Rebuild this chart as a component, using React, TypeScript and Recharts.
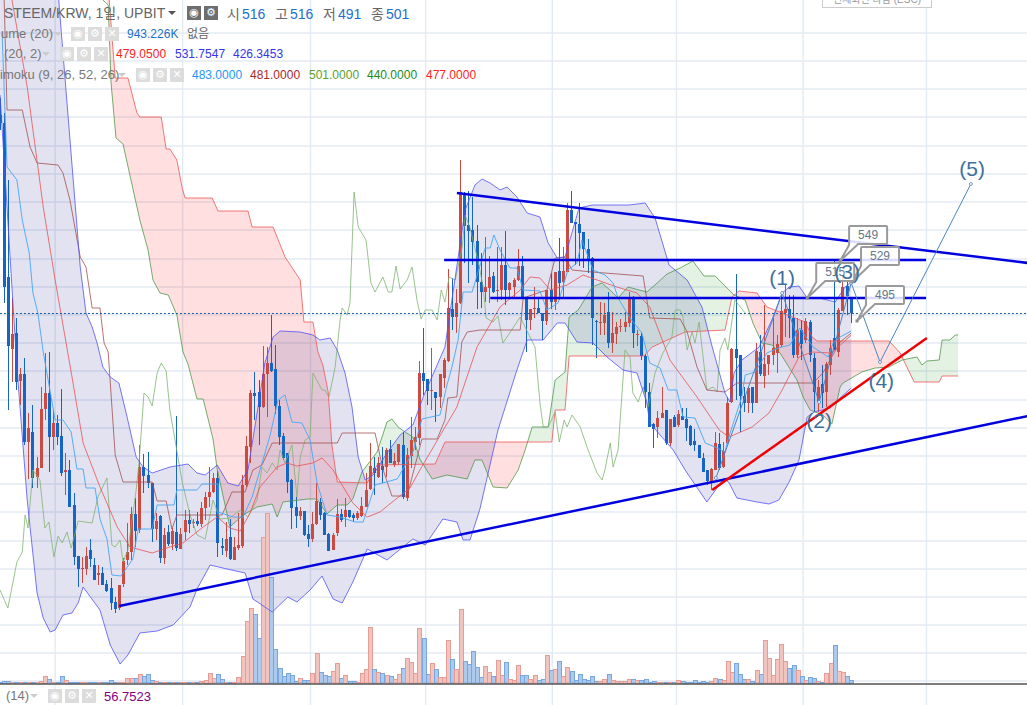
import React from "react";
import { ComposedChart, Bar, Line, Area, XAxis, YAxis, CartesianGrid } from "recharts";

type Pt = [number, number];

const opens = [699,691,537,465,481,433,440,372,382,337,
346,405,421,377,391,378,342,344,309,258,
245,245,264,249,239,241,230,226,212,206,
230,254,262,300,284,347,339,331,285,298,
256,282,270,282,265,282,294,291,293,290,
306,317,322,336,268,263,277,254,266,268,
329,367,421,422,407,440,451,445,408,378,
361,334,307,298,303,280,275,290,312,301,
280,264,281,300,297,304,299,296,298,307,
325,346,337,348,347,365,349,352,369,316,
358,372,376,441,435,423,422,417,436,453,
505,497,511,621,589,584,573,532,522,526,
538,523,524,549,524,527,534,548,516,494,
505,506,501,493,524,512,543,532,542,604,
592,590,582,565,556,493,491,491,502,471,
480,487,487,491,517,479,478,458,422,390,
387,396,404,371,397,389,398,395,388,373,
369,356,344,332,344,370,347,371,412,465,
459,418,411,427,411,462,438,450,459,461,
469,501,505,496,459,484,474,492,456,412,
430,422,449,476,462,503,528,516];
const closes = [691,527,468,480,432,440,372,386,336,346,
405,421,377,391,377,341,344,307,257,245,
246,258,255,234,241,229,223,211,205,229,
253,262,300,283,347,338,331,285,293,256,
279,270,283,266,280,294,290,292,290,306,
317,322,336,271,266,275,255,267,269,329,
368,421,418,407,440,451,443,408,377,356,
332,306,298,303,279,275,290,313,299,279,
263,279,300,294,304,297,296,301,308,324,
348,341,351,344,364,351,353,370,317,359,
374,377,441,433,423,424,416,440,454,506,
497,511,622,588,583,572,532,522,527,537,
522,524,549,524,531,534,548,516,494,505,
506,501,493,524,512,542,531,543,604,591,
590,581,565,554,496,492,492,499,471,481,
487,488,492,515,481,480,458,422,387,385,
396,401,371,395,387,400,394,386,369,369,
356,342,333,345,371,346,363,411,465,456,
418,411,426,411,463,440,450,459,466,470,
503,505,496,459,484,470,493,459,422,427,
421,450,466,464,504,527,518,501];
const highs = [716,701,634,516,496,446,456,401,409,357,
427,461,462,404,399,425,361,354,321,258,
257,267,275,256,249,247,234,236,217,229,
256,291,307,316,369,360,362,331,301,299,
286,289,286,398,286,304,304,295,302,312,
322,347,341,343,276,292,295,277,301,339,
378,424,442,434,468,467,499,469,414,381,
361,335,317,307,303,289,302,331,316,302,
281,281,315,305,316,304,301,303,317,341,
371,357,357,367,366,374,361,370,382,366,
397,387,453,486,435,466,422,440,456,545,
536,525,654,622,623,617,589,561,577,558,
542,567,567,583,532,536,565,558,516,505,
527,516,501,524,541,542,576,567,611,623,
592,611,582,575,557,494,512,511,522,502,
492,495,502,522,518,484,481,460,431,391,
403,427,404,395,399,404,406,406,389,385,
369,361,344,346,382,381,372,417,466,540,
459,427,427,427,471,479,509,459,496,479,
522,529,519,519,496,494,496,494,461,434,
449,452,474,554,506,539,532,516];
const lows = [684,511,404,432,424,409,369,335,326,326,
346,394,342,364,369,338,319,307,249,227,
231,239,247,234,229,229,222,204,201,204,
227,249,254,267,281,321,326,272,274,251,
250,268,264,263,265,274,281,286,288,287,
294,307,321,257,259,257,254,254,264,266,
327,351,394,369,406,397,442,400,369,354,
321,285,286,294,278,267,272,289,294,279,
263,264,278,292,287,296,292,294,297,307,
324,319,336,331,337,351,347,349,315,313,
346,364,369,419,409,404,392,406,426,452,
484,481,510,551,531,549,505,506,512,511,
521,512,514,509,516,517,533,516,462,484,
496,501,474,489,505,504,514,516,542,591,
549,548,546,541,469,456,479,479,466,461,
470,482,482,487,466,468,454,406,387,366,
376,396,369,368,387,387,394,373,368,363,
356,342,329,324,344,344,346,370,411,414,
382,402,401,401,411,438,426,439,449,441,
467,477,476,456,456,454,471,452,402,402,
406,407,439,464,457,503,499,491];
// volume in lots of about 285K
const volumeLots = [1.3,2.5,2.5,1,0.7,0.7,0.7,1.3,1.3,0.7,
2.3,7.3,4,0.7,1.3,6.7,3.3,1.3,1.3,1.3,
0.7,0.7,0.7,0.7,0.7,0.7,0.7,3.3,1.3,1.3,
1.3,4.7,4.7,4.7,8.7,6.7,8.7,3.3,2.3,0.7,
1.3,0.7,1.3,0.7,0.7,0.7,0.7,0.7,1.3,1.7,
3.3,10.3,4.7,8.7,4,1.3,1.3,1.3,5.7,27,
62,75,69,45,146,170,106,34,15,7.3,
9.7,8,2.3,4.7,3.3,3.3,10,30,11,8,
6.7,12,20,5,8.3,2.3,2.3,1.3,9.7,14,
56,14,11,10,8,6.7,4,8.7,15,25,
21,10,55,45,9,20,14,6.3,5.7,43,
24,14,74,22,19,32,16,5.7,17,10.7,
7.3,23,8,21,4.3,3.3,18,8,8,4.3,
8,3.3,4.3,28,13,14,22,7.3,16,12,
3.3,9.3,4.3,3.3,7.3,2.3,2.3,4.3,9.3,3.3,
2.3,2.3,2.3,4.3,4.3,3.3,3.3,4.3,1.3,2.3,
0.7,0.7,1.3,0.7,0.7,3.3,2.3,1.3,1.3,3.3,
1.3,2.3,1.3,2.3,5.3,4.3,3.3,22,11,20,
9.3,4.3,4.3,2.3,13,9.3,43,25,8,24,
39,22,15,18,13,7.3,3.3,6.3,5.3,2.3,
1.3,10,20,38,12,11,7.3,3.3];

const bbUpper: Pt[] = [[0,1214],[12,934],[14.6,797],[19.5,547],[20.9,501],[22.4,487],[23.6,471],[25,447],[26.8,437],[28.9,431],[30.9,397],[33.1,357],[34.8,347],[37,341],[41.3,347],[45.7,350],[47.9,341],[49.9,339],[52.8,349],[55.4,331],[57.9,328],[60.3,344],[62.5,401],[64.4,451],[66.4,477],[68.1,483],[73,482],[76.1,479],[77.8,474],[80.3,476],[82,464],[83.9,441],[85.6,407],[87.1,357],[88.8,334],[90.7,339],[94.1,361],[97.3,379],[100.4,389],[102.9,417],[108.2,467],[113.1,604],[115.5,629],[117.2,635],[119.2,631],[121.6,624],[123.3,627],[125.7,617],[128.2,601],[131.3,597],[133.3,571],[135.5,556],[137.4,557],[140.8,606],[144,609],[148.8,609],[153,609],[156.9,611],[159.3,596],[162.7,549],[167.1,534],[170.7,507],[173.2,467],[176.3,421],[177.5,412],[178.5,441],[180.4,454],[184.6,467],[187.7,494],[190.2,521],[191.9,527],[194.3,528],[196.3,516],[199.2,516],[203.1,512],[205.5,527],[207,532]];
const bbLower: Pt[] = [[0,719],[4.1,447],[6.6,314],[9,221],[10.5,196],[12.2,182],[13.4,184],[15.3,199],[17.5,201],[19,211],[20.2,227],[24.3,204],[26.8,169],[29.2,150],[31.1,159],[34,181],[38.2,183],[42.1,189],[46.2,207],[47.9,225],[51.1,249],[55.2,245],[59.6,241],[61.5,215],[66.2,202],[70,217],[72.2,212],[75.4,224],[78.3,238],[81,215],[83.2,211],[85.8,232],[89.3,265],[94.1,254],[100.4,275],[103.4,269],[107.7,295],[111.1,292],[112.6,274],[114.3,274],[116.7,305],[121.1,384],[125.7,444],[128.2,474],[132.1,474],[135.5,491],[137.4,491],[140.3,472],[144.2,471],[147.6,457],[151.5,444],[154.9,441],[157.3,411],[158,391],[163.7,364],[166.6,344],[171.9,312],[176.1,336],[177.3,331],[179.2,316],[184.1,312],[187,310],[189.4,314],[191.9,332],[194.3,354],[196.3,397],[198,402],[201.9,406],[204.3,416],[207,426]];
const bbBasis: Pt[] = [[0,964],[2.9,814],[6.6,727],[10.5,607],[13.4,534],[17.5,437],[20.2,371],[24.3,327],[28.5,287],[31.6,267],[37,261],[41.3,267],[44.5,271],[49.4,287],[52.8,297],[55.9,286],[58.4,283],[60.8,301],[63.2,327],[67.4,347],[69.8,351],[72.2,348],[76.1,351],[78.3,356],[81,344],[85.8,311],[89.3,297],[92.4,302],[96.6,316],[99.7,326],[102.1,344],[111.1,407],[116,467],[121.6,507],[126.5,524],[128.9,537],[131.3,536],[133.8,524],[137.9,529],[141.8,539],[145.9,533],[150,527],[154.9,521],[158,507],[162.9,454],[169.5,417],[174.9,384],[177.3,377],[182.9,387],[187,401],[190.2,424],[194.3,457],[197.5,462],[202.3,461],[207,479]];
const conversionLine: Pt[] = [[0.5,781],[1.7,647],[4.1,634],[5.4,594],[7.1,561],[8,521],[9.2,501],[10.5,462],[13.4,394],[15.3,394],[17.3,382],[18.7,345],[20.2,345],[20.9,326],[23.1,326],[24.3,295],[26,275],[27.2,239],[29.4,238],[32.3,255],[33.6,285],[37,285],[38.2,309],[42.3,309],[43,324],[47.9,324],[49.1,330],[53,330],[53,302],[56.7,297],[59.1,297],[61.3,317],[65.7,379],[67.6,414],[69.3,419],[71,392],[73.4,391],[75.4,374],[77.1,331],[79.5,299],[82.7,297],[86.3,292],[88.3,292],[91.2,329],[96.6,335],[100.4,362],[102.6,395],[107,399],[108.7,429],[109.9,447],[111.4,474],[112.6,522],[114.8,522],[118,566],[119.2,566],[120.1,579],[121.6,564],[124,546],[125.7,546],[127.2,524],[131.3,523],[133,504],[135.7,511],[138.1,544],[140.3,551],[141.5,574],[144.2,544],[147.1,539],[149.1,531],[150.3,516],[153.2,496],[156.1,481],[158,451],[160.5,446],[162.5,424],[164.6,424],[166.1,397],[169,396],[171.5,371],[173.9,367],[176.3,362],[177,374],[180.4,417],[181.2,439],[183.6,442],[186.5,461],[189.2,466],[192.1,469],[194.5,486],[197.7,467],[201.4,457],[202.6,471],[204.3,477],[207,483]];
const baseLine: Pt[] = [[1,814],[1.7,704],[5.4,704],[7.3,667],[9,651],[14.1,649],[15.3,641],[17,614],[19.5,557],[20.9,547],[22.4,506],[24.3,506],[25.3,471],[26.3,462],[28,359],[29.9,332],[37,332],[38.2,313],[40.4,313],[41.8,285],[43,299],[54,299],[56.4,322],[59.6,322],[61.5,344],[63.7,349],[66.2,371],[82,371],[83.2,381],[91.2,381],[93.1,345],[95.3,318],[99,318],[102.6,375],[106.3,375],[108.2,394],[108.9,416],[111.1,417],[112.3,472],[113.6,482],[116.7,484],[126.5,484],[127.2,516],[133,524],[135,556],[137.4,557],[139.1,544],[144,542],[156.4,538],[158,496],[165.4,495],[167.1,482],[169.5,447],[171.9,424],[176.3,422],[179.2,431],[197.7,431],[200.1,441],[204.3,472],[207,481]];
const laggingSpan: Pt[] = [[0,224],[1.9,206],[4.1,252],[5.4,262],[6.1,299],[6.8,286],[8,344],[9.7,334],[10.9,286],[11.9,292],[13.1,257],[14.1,278],[15.1,271],[16.3,282],[17.3,266],[19,293],[22.4,291],[23.8,317],[26,336],[27.2,269],[28,267],[29.2,274],[29.9,252],[31.1,264],[33.1,324],[33.8,351],[35,421],[36,417],[37,408],[38.2,441],[39.2,451],[40.4,443],[41.3,404],[44.3,332],[46.2,299],[47.9,279],[49.9,275],[51.8,314],[53.5,295],[55.9,296],[58.4,304],[60.3,297],[62.5,314],[63.7,347],[64.9,341],[66.2,351],[67.4,344],[68.1,364],[69.3,351],[71,369],[72.2,317],[73,357],[74.2,374],[75.4,377],[76.1,441],[78.3,424],[79,424],[80,417],[81.5,447],[82.7,494],[83.2,506],[84.4,499],[85.1,511],[86.1,622],[87.1,587],[89,574],[90.2,531],[91.2,522],[93.1,537],[94.4,522],[95.3,522],[96.3,548],[97.3,525],[99,534],[100.2,547],[101.4,514],[102.4,495],[103.4,504],[105.1,504],[106.3,494],[107.3,524],[108.2,512],[109.2,537],[110.7,534],[112.4,567],[113.1,599],[114.3,586],[116.2,554],[117.5,527],[118.2,496],[119.9,492],[121.1,498],[122.3,471],[126.5,497],[128.4,481],[130.1,467],[131.3,411],[132.1,387],[133.3,387],[135,402],[136,372],[137.2,394],[137.9,387],[139.1,399],[141.1,387],[143,364],[145.2,341],[146.4,334],[147.1,344],[148.4,371],[149.1,347],[150.3,364],[152,464],[153.2,457],[153.9,421],[155.2,412],[156.4,427],[157.6,407],[159.3,441],[161.2,461],[163.4,477],[164.2,504],[165.4,504],[166.1,497],[167.1,464],[168.3,482],[169,471],[170,492],[171.9,424],[173.4,427],[174.4,422],[175.1,464],[176.3,476],[177,464],[178.7,514],[181.2,501]];
const leadingA: Pt[] = [[25,814],[26.3,809],[27,731],[28.2,676],[29.9,670],[34,594],[36,564],[37.2,534],[38.9,521],[40.9,519],[43,499],[44.5,462],[45.7,450],[47.9,415],[49.4,415],[51.8,375],[52.8,345],[55.9,287],[59.1,299],[62.5,307],[66.2,310],[67.4,297],[68.8,312],[74.9,315],[77.1,315],[79.5,300],[82,309],[84.4,309],[85.8,315],[88,342],[91.7,362],[94.1,392],[95.3,395],[96.8,387],[98.5,382],[100.4,377],[102.1,355],[105.1,335],[108.7,339],[113.6,335],[115.5,354],[117.2,354],[119.9,327],[123.3,326],[126,344],[127.7,364],[129.4,387],[133.3,387],[135,434],[137.4,442],[138.4,497],[140.6,504],[144,527],[146.4,531],[149.1,521],[150.3,516],[152.7,527],[157.3,522],[159.8,531],[162.2,540],[165.4,546],[168.5,553],[171.2,538],[173.9,538],[175.6,531],[178.5,519],[181.2,514],[183.1,491],[185.3,471],[187.7,469],[189.7,461],[193.8,434],[195.3,417],[197,404],[200.1,399],[202.3,390],[204.3,427],[205,431],[209.6,442],[212.8,446],[216.2,447],[219.4,454],[223,457],[224.2,449],[225.4,453],[228.4,454],[229.1,474],[231,474],[232.3,479],[233,479]];
const leadingB: Pt[] = [[26,844],[28,736],[31.1,736],[33.3,701],[34,697],[39.2,697],[40.4,665],[41.3,665],[43,654],[44.3,626],[45,616],[51.6,616],[53,603],[60.3,603],[61.3,587],[66.4,587],[69.3,557],[73,534],[73.9,492],[76.1,492],[77.3,462],[78.5,449],[79.8,422],[80.7,369],[82,332],[89.3,331],[91.7,349],[105.8,350],[108.2,372],[134.2,372],[135,404],[137.4,404],[138.4,458],[156.6,458],[158.6,467],[166.6,482],[176.3,484],[178,517],[179.7,523],[184.1,521],[186.5,507],[195.8,492],[197.5,477],[198.7,473],[216.2,473],[218.9,461],[222.3,432],[228.4,432],[229.1,438],[233,438]];

const lowerTrend: Pt[] = [[29,208],[250,398]];
const upperTrend: Pt[] = [[111.1,621],[250,551]];
const resistance: Pt[] = [[108,554],[225.2,554]];
const support: Pt[] = [[119.2,516],[225.2,516]];
const impulseTrend: Pt[] = [[173.2,324],[225.4,476]];
const wavePath: Pt[] = [[174.1,336],[190.2,521],[199.2,412],[207,531],[214,452],[236.1,630]];
const lastClose: Pt[] = [[-1,500.5],[251,500.5]];
const paneFloor: Pt[] = [[-1,-1],[251,-1]];
const waveLabels = [{ k: 190.2, p: 537, t: "(1)" }, { k: 199.2, p: 394, t: "(2)" }, { k: 206, p: 543, t: "(3)" }, { k: 214.3, p: 434, t: "(4)" }, { k: 236.4, p: 646, t: "(5)" }];
const callouts = [{ k: 204.3, p: 553, t: "549" }, { k: 207.2, p: 532, t: "529" }, { k: 196.3, p: 516, t: "515" }];
const calloutBehind = [{ k: 208.4, p: 493, t: "495" }];

const priceGrid = [809,781,753,725,697,668,640,612,584,555,527,499,471,443,414,386,358,330,302,273,245,217,189,161,133];
const barGrid = [13.4,44.4,75.5,103.5,134.3,164.5,195.3,225.3];

const rows = opens.map((o, k) => ({ k, o, h: highs[k], l: lows[k], c: closes[k], v: volumeLots[k] }));
const toRows = (pts: Pt[]) => pts.map(([k, p]) => ({ k, p }));

const valueAt = (pts: Pt[], k: number) => {
  if (k <= pts[0][0]) return pts[0][1];
  for (let i = 1; i < pts.length; i++) {
    if (k <= pts[i][0]) {
      const [k0, p0] = pts[i - 1];
      const [k1, p1] = pts[i];
      return k1 === k0 ? p1 : p0 + ((p1 - p0) * (k - k0)) / (k1 - k0);
    }
  }
  return pts[pts.length - 1][1];
};
// Align two hand-read outlines on their joint vertices so an area can be filled between them.
const fillRows = (a: Pt[], b: Pt[]) => {
  const from = Math.max(a[0][0], b[0][0]);
  const to = Math.min(a[a.length - 1][0], b[b.length - 1][0]);
  const ks = Array.from(new Set([...a, ...b].map((p) => p[0]))).filter((k) => k >= from && k <= to).sort((x, y) => x - y);
  const out: { k: number; a: number; b: number }[] = [];
  ks.forEach((k, i) => {
    const cur = { k, a: valueAt(a, k), b: valueAt(b, k) };
    if (i > 0) {
      const prev = out[out.length - 1];
      const d0 = prev.a - prev.b;
      const d1 = cur.a - cur.b;
      if (d0 * d1 < 0) {
        const kx = prev.k + ((k - prev.k) * d0) / (d0 - d1);
        const v = valueAt(a, kx);
        out.push({ k: kx, a: v, b: v });
      }
    }
    out.push(cur);
  });
  return out;
};
const bandRows = fillRows(bbLower, bbUpper);
const cloudRows = fillRows(leadingA, leadingB);

const UP = "#cb4b42";
const DOWN = "#1565c4";

const Candle = (props: any) => {
  const { x, y, width, height, payload } = props;
  const { o, h, l, c } = payload;
  const px = Math.floor(x + width / 2);
  const ratio = height / Math.max(h - l, 1);
  const top = Math.round(y + (h - Math.max(o, c)) * ratio);
  const bodyH = Math.max(Math.round(Math.abs(o - c) * ratio), 1);
  const color = c >= o ? UP : DOWN;
  return (
    <g shapeRendering="crispEdges">
      <rect x={px} y={y} width={1} height={height} fill={color} />
      <rect x={px - 1} y={top} width={3} height={bodyH} fill={color} />
    </g>
  );
};
const VolumeBar = (props: any) => {
  const { x, y, width, height, payload } = props;
  const up = payload.c >= payload.o;
  const left = Math.round(x + width / 2 - 2);
  return (
    <rect x={left + 0.5} y={Math.round(y) + 0.5} width={4} height={Math.max(height - 0.5, 0.5)} fill={up ? "#f2c4bf" : "#adc9ec"} stroke={up ? "#e59d96" : "#78a6df"} strokeWidth={1} />
  );
};
const WaveText = (props: any) => (
  <text key={props.payload.t} x={props.cx} y={props.cy} textAnchor="middle" dominantBaseline="central" fontFamily="'Liberation Sans', Arial, sans-serif" fontSize={21} fill="#3f6f9c">
    {props.payload.t}
  </text>
);
const WaveDot = (props: any) => (
  <circle key={props.index} cx={props.cx} cy={props.cy} r={1.5} fill="#ffffff" stroke="#4a86c0" strokeWidth={0.8} />
);
const Callout = (props: any) => {
  const { cx, cy, payload } = props;
  return (
    <g key={payload.t}>
      <path
        d={`M${cx},${cy} L${cx + 9},${cy - 16} L${cx + 9},${cy - 34} Q${cx + 9},${cy - 35} ${cx + 10},${cy - 35} L${cx + 46},${cy - 35} Q${cx + 47},${cy - 35} ${cx + 47},${cy - 34} L${cx + 47},${cy - 18} Q${cx + 47},${cy - 17} ${cx + 46},${cy - 17} L${cx + 18},${cy - 17} Z`}
        fill="#ffffff"
        fillOpacity={0.86}
        stroke="#9a9a9a"
        strokeWidth={2}
      />
      <rect x={cx - 1.5} y={cy - 1.5} width={3} height={3} fill="#8f8f8f" />
      <text x={cx + 28} y={cy - 26} textAnchor="middle" dominantBaseline="central" fontFamily="'Liberation Sans', Arial, sans-serif" fontSize={12} fill="#66788a">
        {payload.t}
      </text>
    </g>
  );
};

const FONT = "'Liberation Sans', Arial, 'Noto Sans CJK KR', sans-serif";
const abs = (left: number, center: number, extra: React.CSSProperties = {}): React.CSSProperties => ({
  position: "absolute",
  left,
  top: center - 10,
  height: 20,
  lineHeight: "20px",
  whiteSpace: "nowrap",
  fontFamily: FONT,
  ...extra,
});
const T = ({ x, c, s, size = 12, color = "#666" }: { x: number; c: number; s: string; size?: number; color?: string }) => (
  <span style={abs(x, c, { fontSize: size, color })}>{s}</span>
);
const Icon = ({ x, c, g, dark }: { x: number; c: number; g: string; dark?: boolean }) => (
  <span
    style={{
      position: "absolute",
      left: x,
      top: c - 7,
      width: 14,
      height: 14,
      lineHeight: "14px",
      textAlign: "center",
      fontSize: 11,
      fontFamily: "'DejaVu Sans', sans-serif",
      background: dark ? "#6e6e6e" : "#dcdcdc",
      color: "#ffffff",
    }}
  >
    {g}
  </span>
);
const Caret = ({ x, c, color }: { x: number; c: number; color: string }) => (
  <span style={{ position: "absolute", left: x, top: c - 2, width: 0, height: 0, borderLeft: "4px solid transparent", borderRight: "4px solid transparent", borderTop: `4px solid ${color}` }} />
);
const Trio = ({ x, c }: { x: number; c: number }) => (
  <>
    <Icon x={x} c={c} g="◉" />
    <Icon x={x + 17} c={c} g="⚙" />
    <Icon x={x + 34} c={c} g="✕" />
  </>
);

const thin = (data: Pt[], stroke: string, opacity = 0.78) => (
  <Line data={toRows(data)} dataKey="p" type="linear" stroke={stroke} strokeOpacity={opacity} strokeWidth={1} dot={false} activeDot={false} isAnimationActive={false} legendType="none" />
);
const bold = (data: Pt[], stroke: string, w = 2.5) => (
  <Line data={toRows(data)} dataKey="p" type="linear" stroke={stroke} strokeWidth={w} dot={false} activeDot={false} isAnimationActive={false} legendType="none" />
);

export default function App() {
  return (
    <div style={{ position: "fixed", left: 0, top: 0, width: 1027, height: 705, overflow: "hidden", background: "#fff" }}>
      <ComposedChart width={1027} height={705} data={rows} margin={{ top: 0, right: 0, bottom: 0, left: 0 }}>
        <XAxis dataKey="k" type="number" domain={[-0.012, 249.75]} hide allowDataOverflow />
        <XAxis xAxisId="volX" dataKey="k" type="number" domain={[-0.012, 249.75]} hide allowDataOverflow />
        <YAxis domain={[109, 814]} hide allowDataOverflow />
        <YAxis yAxisId="vol" domain={[-22, 683]} hide allowDataOverflow />
        <CartesianGrid stroke="#e3ebf2" strokeWidth={1.4} horizontalValues={priceGrid} verticalValues={barGrid} />

        <Bar xAxisId="volX" yAxisId="vol" dataKey="v" barSize={4} shape={VolumeBar} isAnimationActive={false} legendType="none" />

        <Area data={cloudRows} dataKey={(d: any) => (d.b >= d.a ? [d.a, d.b] : [d.a, d.a])} type="linear" stroke="none" fill="#ff0000" fillOpacity={0.125} dot={false} activeDot={false} isAnimationActive={false} legendType="none" />
        <Area data={cloudRows} dataKey={(d: any) => (d.a >= d.b ? [d.b, d.a] : [d.a, d.a])} type="linear" stroke="none" fill="#008000" fillOpacity={0.105} dot={false} activeDot={false} isAnimationActive={false} legendType="none" />
        <Area data={bandRows} dataKey={(d: any) => [d.a, d.b]} type="linear" stroke="none" fill="#000080" fillOpacity={0.115} dot={false} activeDot={false} isAnimationActive={false} legendType="none" />

        {thin(leadingA, "#4f9648")}
        {thin(leadingB, "#f05252")}
        {thin(laggingSpan, "#7fb26e")}
        {thin(baseLine, "#a34d4d")}
        {thin(bbBasis, "#e84f4f")}
        {thin(bbUpper, "#5050f5")}
        {thin(bbLower, "#5050f5")}
        {thin(conversionLine, "#46a6f5", 0.9)}

        <Bar dataKey={(d: any) => [d.l, d.h]} barSize={4} shape={Candle} isAnimationActive={false} legendType="none" />

        <Line data={toRows(lastClose)} dataKey="p" stroke="#1a5a9e" strokeWidth={1} strokeDasharray="2 2" dot={false} activeDot={false} isAnimationActive={false} legendType="none" />
        <Line yAxisId="vol" data={toRows(paneFloor)} dataKey="p" stroke="#555555" strokeWidth={1.5} dot={false} activeDot={false} isAnimationActive={false} legendType="none" />

        <Line data={calloutBehind} dataKey="p" stroke="none" dot={Callout} activeDot={false} isAnimationActive={false} legendType="none" />
        {bold(lowerTrend, "#0000e0")}
        {bold(upperTrend, "#0000e0")}
        {bold(resistance, "#0000e0")}
        {bold(support, "#0000e0")}
        {bold(impulseTrend, "#f00000")}
        <Line data={toRows(wavePath)} dataKey="p" stroke="#4a86c0" strokeWidth={1} dot={WaveDot} activeDot={false} isAnimationActive={false} legendType="none" />
        <Line data={callouts} dataKey="p" stroke="none" dot={Callout} activeDot={false} isAnimationActive={false} legendType="none" />
        <Line data={waveLabels} dataKey="p" stroke="none" dot={WaveText} activeDot={false} isAnimationActive={false} legendType="none" />
      </ComposedChart>

      <T x={4} c={13} s="STEEM/KRW, 1일, UPBIT" size={14} color="#666" />
      <Caret x={168} c={13} color="#555" />
      <Icon x={187} c={13} g="◉" dark />
      <Icon x={204} c={13} g="⚙" dark />
      <T x={227} c={14} s="시" size={14} />
      <T x={242} c={14} s="516" size={14} color="#1e6fc9" />
      <T x={275} c={14} s="고" size={14} />
      <T x={290} c={14} s="516" size={14} color="#1e6fc9" />
      <T x={323} c={14} s="저" size={14} />
      <T x={338} c={14} s="491" size={14} color="#1e6fc9" />
      <T x={371} c={14} s="종" size={14} />
      <T x={386} c={14} s="501" size={14} color="#1e6fc9" />

      <T x={1} c={34} s="ume (20)" size={13} color="#777" />
      <Caret x={54} c={34} color="#ccc" />
      <Trio x={71} c={34} />
      <T x={127} c={34} s="943.226K" size={12} color="#1e6fc9" />
      <T x={187} c={34} s="없음" size={12} color="#666" />

      <T x={4} c={54} s="(20, 2)" size={13} color="#777" />
      <Caret x={42} c={54} color="#ccc" />
      <Trio x={60} c={54} />
      <T x={116} c={54} s="479.0500" size={12} color="#ff2020" />
      <T x={175} c={54} s="531.7547" size={12} color="#3434ee" />
      <T x={233} c={54} s="426.3453" size={12} color="#3434ee" />

      <T x={0} c={75} s="imoku (9, 26, 52, 26)" size={13} color="#777" />
      <Caret x={118} c={75} color="#ccc" />
      <Trio x={136} c={75} />
      <T x={192} c={75} s="483.0000" size={12} color="#2196f3" />
      <T x={250} c={75} s="481.0000" size={12} color="#a52a2a" />
      <T x={309} c={75} s="501.0000" size={12} color="#5aa02c" />
      <T x={367} c={75} s="440.0000" size={12} color="#228b22" />
      <T x={426} c={75} s="477.0000" size={12} color="#ff2020" />

      <T x={6} c={696} s="(14)" size={13} color="#777" />
      <Caret x={30} c={696} color="#ccc" />
      <Trio x={48} c={696} />
      <T x={104} c={697} s="56.7523" size={13} color="#800080" />

      <div style={{ position: "absolute", left: 822, top: -8, width: 108, height: 14, border: "1px solid #cccccc", background: "#fff", fontSize: 10, lineHeight: "14px", textAlign: "center", color: "#999", fontFamily: FONT }}>전체화면 나감 (ESC)</div>
    </div>
  );
}
